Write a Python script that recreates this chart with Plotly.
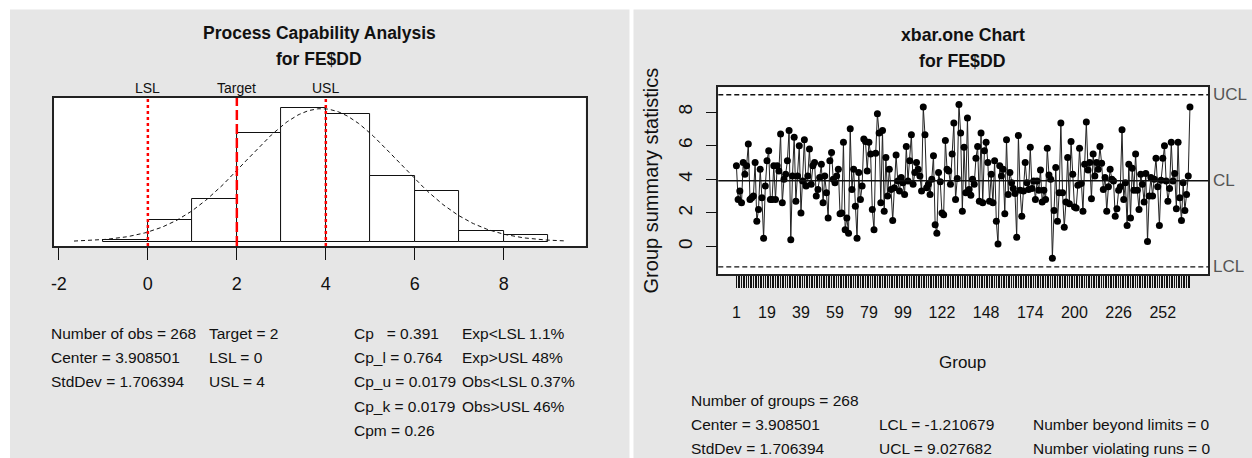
import numpy as np
import plotly.graph_objects as go

W, H = 1252, 458

# ---------------- data ----------------
hist_breaks = [-1, 0, 1, 2, 3, 4, 5, 6, 7, 8, 9]
hist_counts = [1, 10, 20, 51, 63, 60, 31, 24, 5, 3]
n_obs = 268
center = 3.908501
std_dev = 1.706394
lsl, target, usl = 0, 2, 4
lcl, ucl = -1.210679, 9.027682
curve_range = [-1.66, 9.39]
hist_ticks = [-2, 0, 2, 4, 6, 8]
hist_tick_text = ["-2", "0", "2", "4", "6", "8"]

group_stats = [
    4.8, 2.8, 3.3, 2.6, 5.0, 4.3, 4.8, 6.1, 2.8, 2.9,
    3.0, 5.0, 1.5, 2.2, 4.6, 2.9, 0.5, 3.6, 5.1, 5.7,
    2.8, 2.8, 4.8, 2.8, 4.8, 4.5, 6.7, 2.6, 4.0, 4.3,
    5.1, 6.9, 0.4, 4.2, 6.5, 2.7, 4.2, 6.0, 2.0, 3.9,
    6.35, 3.6, 4.2, 5.8, 3.7, 4.8, 5.0, 3.0, 3.4, 4.1,
    4.9, 2.6, 4.2, 3.2, 1.7, 5.1, 5.6, 4.0, 3.8, 4.2,
    4.6, 1.95, 2.0, 6.2, 1.0, 1.7, 0.8, 7.0, 3.4, 4.6,
    2.4, 0.5, 4.4, 2.8, 3.6, 6.4, 6.25, 4.5, 6.2, 5.5,
    2.2, 1.0, 5.55, 7.9, 6.75, 2.6, 6.9, 2.1, 5.3, 3.0,
    4.6, 3.4, 1.55, 3.5, 5.45, 3.9, 3.3, 4.1, 3.8, 3.1,
    5.95, 3.9, 5.1, 6.65, 3.7, 4.4, 5.0, 4.6, 4.2, 3.3,
    8.3, 6.65, 3.5, 3.7, 3.1, 4.0, 5.4, 1.3, 0.8, 4.4,
    3.85, 2.0, 1.9, 6.3, 4.6, 4.5, 3.7, 5.5, 7.35, 2.8,
    4.05, 8.45, 6.75, 2.1, 5.9, 3.2, 7.65, 3.4, 3.05, 4.0,
    3.7, 5.25, 5.95, 2.7, 6.75, 2.6, 5.7, 6.2, 5.0, 2.7,
    4.3, 2.6, 5.1, 1.5, 0.15, 4.8, 4.2, 4.6, 1.95, 6.35,
    3.1, 4.4, 3.8, 3.45, 3.15, 0.55, 6.6, 3.35, 1.8, 3.3,
    5.0, 3.8, 3.4, 5.9, 3.45, 3.9, 2.8, 3.9, 3.35, 4.55,
    2.65, 3.35, 2.8, 5.85, 4.25, 4.0, -0.7, 2.15, 4.7, 1.5,
    3.2, 7.35, 3.2, 1.15, 2.65, 5.3, 2.55, 6.25, 4.3, 2.35,
    2.3, 3.65, 5.85, 3.75, 2.1, 4.9, 7.4, 4.55, 5.0, 2.85,
    5.5, 4.2, 5.0, 4.6, 5.95, 4.95, 3.4, 4.1, 2.1, 3.55,
    4.6, 4.0, 3.9, 1.8, 2.25, 3.35, 3.55, 6.95, 2.8, 3.8,
    1.25, 4.9, 1.7, 4.65, 3.35, 5.5, 3.35, 2.2, 4.3, 3.7,
    2.65, 4.35, 0.3, 3.0, 4.1, 3.0, 4.0, 5.25, 3.55, 1.25,
    3.95, 5.25, 6.0, 3.9, 2.7, 3.45, 6.2, 3.9, 4.35, 2.25,
    6.2, 2.9, 1.55, 3.8, 2.15, 3.1, 4.2, 8.3,
]
group_ids = list(range(1, len(group_stats) + 1))
xbar_tick_labels = [1, 19, 39, 59, 79, 99, 122, 148, 174, 200, 226, 252]
xbar_yticks = [0, 2, 4, 6, 8]

NB = "\u00a0"
left_col1 = ["Number of obs = 268", "Center = 3.908501", "StdDev = 1.706394"]
left_col2 = ["Target = 2", "LSL = 0", "USL = 4"]
left_col3 = ["Cp" + NB * 3 + "= 0.391", "Cp_l = 0.764", "Cp_u = 0.0179",
             "Cp_k = 0.0179", "Cpm" + NB + "= 0.26"]
left_col4 = ["Exp&lt;LSL 1.1%", "Exp&gt;USL 48%", "Obs&lt;LSL 0.37%", "Obs&gt;USL 46%"]
right_col1 = ["Number of groups = 268", "Center = 3.908501", "StdDev = 1.706394"]
right_col2 = ["LCL = -1.210679", "UCL = 9.027682"]
right_col3 = ["Number beyond limits = 0", "Number violating runs = 0"]

# ---------------- style ----------------
FONT = "Liberation Sans, Arial, sans-serif"
TXT = "#111111"
PANEL = "#e6e6e6"


def fx(px):
    return px / W


def fy(py):
    return 1 - py / H


def ann(text, x, y, size=15.5, xanchor="left", yanchor="middle", color=TXT,
        weight="normal", angle=0):
    return dict(text=text, x=fx(x), y=fy(y),
                xref="paper", yref="paper", showarrow=False,
                xanchor=xanchor, yanchor=yanchor, textangle=angle,
                font=dict(size=size, color=color, family=FONT, weight=weight))


# geometry (pixels)
HL, HR, HT, HB = 51.2, 584.0, 98.0, 246.0       # histogram box
XL, XR, XT, XB = 717.0, 1208.0, 87.3, 274.0     # xbar chart box
HX0, HX1 = -2.108, 9.839
YV0, YV1 = -1.63, 9.47

fig = go.Figure()

# histogram (density scale)
widths = np.diff(hist_breaks)
mids = [(hist_breaks[i] + hist_breaks[i + 1]) / 2 for i in range(len(hist_counts))]
dens = [c / (n_obs * w) for c, w in zip(hist_counts, widths)]
fig.add_trace(go.Bar(x=mids, y=dens, width=list(widths), xaxis="x", yaxis="y",
                     marker=dict(color="white", line=dict(color="#111111", width=1)),
                     showlegend=False, hoverinfo="skip"))

xs = np.linspace(curve_range[0], curve_range[1], 300)
pdf = np.exp(-0.5 * ((xs - center) / std_dev) ** 2) / (std_dev * np.sqrt(2 * np.pi))
fig.add_trace(go.Scatter(x=xs, y=pdf, mode="lines", xaxis="x", yaxis="y",
                         line=dict(color="#111111", width=1, dash="4px,3px"),
                         showlegend=False, hoverinfo="skip"))

# xbar chart
fig.add_trace(go.Scatter(x=group_ids, y=group_stats, mode="lines+markers",
                         xaxis="x2", yaxis="y2",
                         line=dict(color="#222222", width=1),
                         marker=dict(color="black", size=7),
                         showlegend=False, hoverinfo="skip"))

shapes = [
    dict(type="rect", xref="paper", yref="paper", x0=fx(7), x1=fx(628), y0=0, y1=fy(9.5),
         fillcolor=PANEL, line=dict(width=0), layer="below"),
    dict(type="rect", xref="paper", yref="paper", x0=fx(632), x1=1, y0=0, y1=fy(9.5),
         fillcolor=PANEL, line=dict(width=0), layer="below"),
    dict(type="rect", xref="paper", yref="paper", x0=fx(HL), x1=fx(HR), y0=fy(HB), y1=fy(HT),
         fillcolor="white", line=dict(width=0), layer="below"),
    dict(type="rect", xref="paper", yref="paper", x0=fx(XL), x1=fx(XR), y0=fy(XB), y1=fy(XT),
         fillcolor="white", line=dict(width=0), layer="below"),
]
# spec lines
for val, dash in [(lsl, "3px,3px"), (target, "10px,4px"), (usl, "3px,3px")]:
    shapes.append(dict(type="line", xref="x", yref="y domain", x0=val, x1=val, y0=0, y1=1,
                       line=dict(color="red", width=2.5, dash=dash), layer="above"))
# control lines
shapes.append(dict(type="line", xref="x2 domain", yref="y2", x0=0, x1=1, y0=center, y1=center,
                   line=dict(color="#111111", width=1.5), layer="above"))
for val in (ucl, lcl):
    shapes.append(dict(type="line", xref="x2 domain", yref="y2", x0=0, x1=1, y0=val, y1=val,
                       line=dict(color="#111111", width=1.3, dash="5px,3px"), layer="above"))

annotations = [
    ann("Process Capability Analysis", 317, 33, size=17.5, xanchor="center", weight="bold"),
    ann("for FE$DD", 317, 59, size=17.5, xanchor="center", weight="bold"),
    ann("xbar.one Chart", 962, 35, size=17.7, xanchor="center", weight="bold"),
    ann("for FE$DD", 962, 61, size=17.7, xanchor="center", weight="bold"),
    ann("Group", 962, 362, size=17, xanchor="center"),
    ann("Group summary statistics", 650, 180, size=20, xanchor="center", angle=-90),
]
hx_scale = (HR - HL) / (HX1 - HX0)
for val, lab in [(lsl, "LSL"), (target, "Target"), (usl, "USL")]:
    annotations.append(ann(lab, HL + (val - HX0) * hx_scale, 88, size=14, xanchor="center"))

yv_scale = (XB - XT) / (YV1 - YV0)
for val, lab in [(ucl, "UCL"), (center, "CL"), (lcl, "LCL")]:
    annotations.append(ann(lab, 1211, XT + (YV1 - val) * yv_scale, size=17, color="#555555"))

rows_left = [333, 357.5, 381.7, 406, 430.3]
for col, x0 in [(left_col1, 46), (left_col2, 204), (left_col3, 350), (left_col4, 458)]:
    for i, t in enumerate(col):
        annotations.append(ann(t, x0, rows_left[i]))

rows_right = [400, 424.5, 448.5]
for i, t in enumerate(right_col1):
    annotations.append(ann(t, 688, rows_right[i]))
for i, t in enumerate(right_col2):
    annotations.append(ann(t, 876, rows_right[i + 1]))
for i, t in enumerate(right_col3):
    annotations.append(ann(t, 1030, rows_right[i + 1]))

ticktext = [str(g) if g in xbar_tick_labels else "" for g in group_ids]

fig.update_layout(
    width=W, height=H, margin=dict(l=0, r=0, t=0, b=0),
    paper_bgcolor="white", plot_bgcolor="rgba(0,0,0,0)",
    bargap=0, showlegend=False,
    shapes=shapes, annotations=annotations,
    xaxis=dict(domain=[fx(HL), fx(HR)], range=[HX0, HX1], anchor="y",
               tickmode="array", tickvals=hist_ticks, ticktext=hist_tick_text,
               ticks="outside", ticklen=12, tickwidth=1, tickcolor="#111",
               tickfont=dict(family=FONT, size=18, color=TXT), ticklabelstandoff=9,
               showline=True, mirror=True, linecolor="#222", linewidth=1.5,
               showgrid=False, zeroline=False),
    yaxis=dict(domain=[fy(HB), fy(HT)], range=[-0.00756, 0.25255], anchor="x",
               showticklabels=False, ticks="", showline=True, mirror=True,
               linecolor="#222", linewidth=1.5, showgrid=False, zeroline=False),
    xaxis2=dict(domain=[fx(XL), fx(XR)], range=[-9.68, 278.68], anchor="y2",
                tickmode="array", tickvals=group_ids, ticktext=ticktext,
                ticks="outside", ticklen=12, tickwidth=1, tickcolor="#111",
                tickfont=dict(family=FONT, size=16, color=TXT), ticklabelstandoff=11,
                showline=True, mirror=True, linecolor="#222", linewidth=1.5,
                showgrid=False, zeroline=False),
    yaxis2=dict(domain=[fy(XB), fy(XT)], range=[YV0, YV1], anchor="x2",
                tickvals=xbar_yticks, ticks="outside", ticklen=11, tickwidth=1, tickcolor="#111",
                tickangle=-90, tickfont=dict(family=FONT, size=19, color=TXT),
                ticklabelstandoff=6,
                showline=True, mirror=True, linecolor="#222", linewidth=1.5,
                showgrid=False, zeroline=False),
)

fig.write_html("out.html")
